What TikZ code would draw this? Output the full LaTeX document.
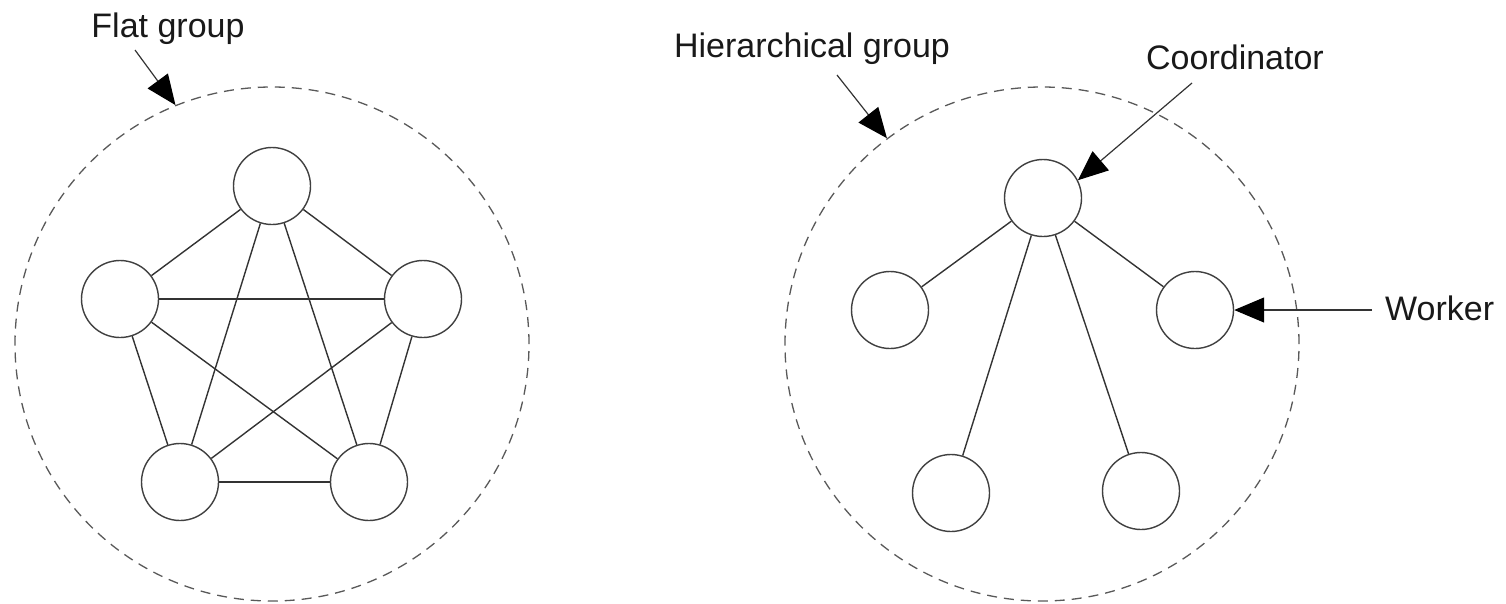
\documentclass[tikz,border=0pt]{standalone}
\usepackage{fontspec}
\setmainfont{Liberation Sans}
\usetikzlibrary{arrows.meta}
\begin{document}
\begin{tikzpicture}[x=1pt,y=-1pt,
  member/.style={circle,draw=black!75,line width=1.4pt,minimum size=77pt,inner sep=0pt},
  ring/.style={circle,draw=black!65,dash pattern=on 10pt off 7pt,line width=1.3pt,minimum size=514pt,inner sep=0pt},
  link/.style={draw=black!80,line width=1.4pt},
  pointer/.style={draw=black!80,line width=1.2pt,-{Triangle[length=30pt,width=25pt,fill=black,color=black]}},
  lbl/.style={font=\fontsize{34}{40}\selectfont,inner sep=0pt,anchor=base,text=black!90}]
\useasboundingbox (0,0) rectangle (1506,603);

% ---- flat group: every member talks to every other ----
\node[ring] (flat) at (272,344) {};
\node[member] (f1) at (272,186) {};
\node[member] (f2) at (120,299) {};
\node[member] (f3) at (423,299) {};
\node[member] (f4) at (180,482) {};
\node[member] (f5) at (369,482) {};
\foreach \a/\b in {f1/f2,f1/f3,f1/f4,f1/f5,f2/f3,f2/f4,f2/f5,f3/f4,f3/f5,f4/f5}
  \draw[link] (\a) -- (\b);

\node[lbl] (flatlbl) at (168,37) {Flat group};
\coordinate (flattail) at (135,50);
\draw[pointer] (flattail) -- (flat.112.9);

% ---- hierarchical group: one coordinator, four workers ----
\node[ring] (hier) at (1042,344) {};
\node[member] (coord) at (1043,198) {};
\node[member] (w1) at (890,310) {};
\node[member] (w2) at (1195,310) {};
\node[member] (w3) at (951,493) {};
\node[member] (w4) at (1141,491) {};
\foreach \w in {w1,w2,w3,w4}
  \draw[link] (coord) -- (\w);

\node[lbl] (hierlbl) at (812,57) {Hierarchical group};
\coordinate (hiertail) at (837,75);
\draw[pointer] (hiertail) -- (hier.127.7);

\node[lbl] (coordlbl) at (1235,69) {Coordinator};
\coordinate (coordtail) at (1192,83);
\draw[pointer] (coordtail) -- (coord.27.7);

\node[lbl,anchor=base west] (workerlbl) at (1385,320) {Worker};
\coordinate (workertail) at (1372,310);
\draw[pointer] (workertail) -- (w2.east);
\end{tikzpicture}
\end{document}
